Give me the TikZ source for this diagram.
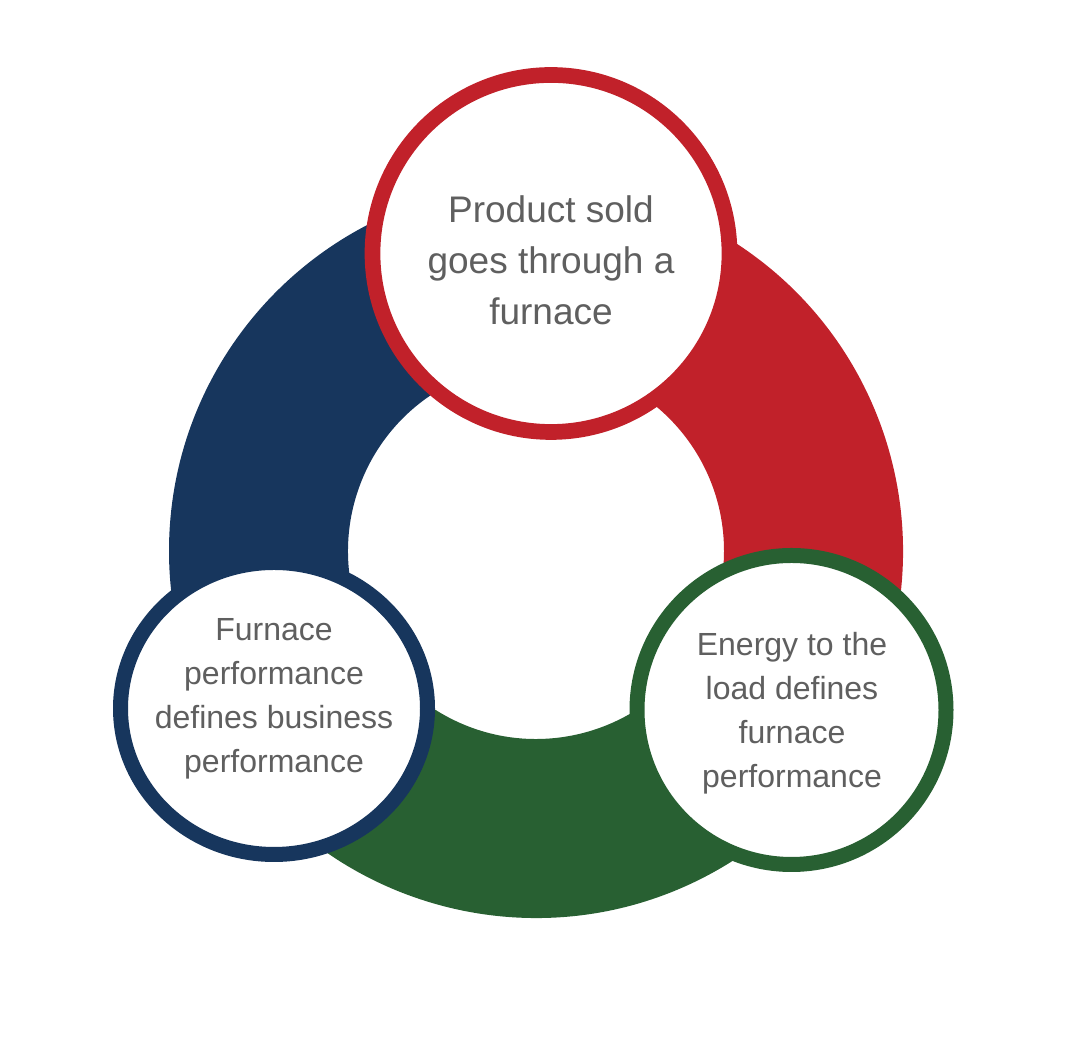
\documentclass[tikz,border=0pt]{standalone}
\usepackage{fontspec}
\setmainfont{Liberation Sans}
\usetikzlibrary{shapes.geometric}
\definecolor{ringred}{RGB}{193,33,42}
\definecolor{ringblue}{RGB}{23,54,93}
\definecolor{ringgreen}{RGB}{40,96,50}
\definecolor{textgray}{RGB}{95,95,95}
\begin{document}
\begin{tikzpicture}[x=1pt,y=1pt,
  bubble/.style={draw, line width=15pt, fill=white, inner sep=0pt},
  bubbletext/.style={align=center, text=textgray, inner sep=0pt}]
\useasboundingbox (0,0) rectangle (1077,1064);
\coordinate (c) at (536,513);
\begin{scope}[shift={(c)}]
\fill[ringred] (-30:367) arc[start angle=-30,end angle=90,radius=367] -- (90:188) arc[start angle=90,end angle=-30,radius=188] -- cycle;
\fill[ringblue] (90:367) arc[start angle=90,end angle=210,radius=367] -- (210:188) arc[start angle=210,end angle=90,radius=188] -- cycle;
\fill[ringgreen] (210:367) arc[start angle=210,end angle=330,radius=367] -- (330:188) arc[start angle=330,end angle=210,radius=188] -- cycle;
\end{scope}
\node[bubble, circle, draw=ringred, line width=15.7pt, minimum size=357] (top) at (551,810.5) {};
\node[bubble, ellipse, draw=ringblue, minimum width=307, minimum height=292] (left) at (274,355.5) {};
\node[bubble, circle, draw=ringgreen, minimum size=309] (right) at (791.5,354) {};
\node[bubbletext, font=\fontsize{37}{51}\selectfont] (toptext) at (551,803.5) {Product sold\\goes through a\\furnace};
\node[bubbletext, font=\fontsize{32}{44}\selectfont] (lefttext) at (274,365) {Furnace\\performance\\defines business\\performance};
\node[bubbletext, font=\fontsize{32}{44}\selectfont] (righttext) at (792,351) {Energy to the\\load defines\\furnace\\performance};
\end{tikzpicture}
\end{document}
